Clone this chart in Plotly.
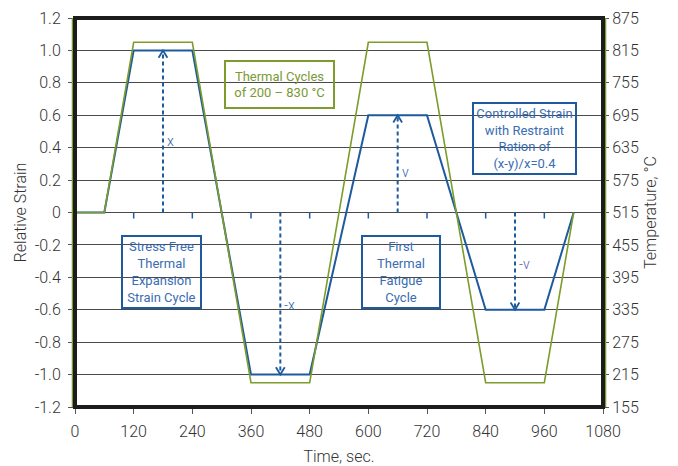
import plotly.graph_objects as go

# Time axis (s) and the two curves
time_s = [0, 60, 120, 240, 360, 480, 600, 720, 840, 960, 1020]
strain = [0, 0, 1.0, 1.0, -1.0, -1.0, 0.6, 0.6, -0.6, -0.6, 0]
temp_c = [515, 515, 830, 830, 200, 200, 830, 830, 200, 200, 515]

# Strain arrows: (time, tip strain, label, label strain, label colour)
arrow_t = [180, 420, 660, 900]
arrow_tip = [1.0, -1.0, 0.6, -0.6]
arrow_lbl = ["x", "-x", "v", "-v"]
arrow_lbl_y = [0.44, -0.57, 0.25, -0.32]
arrow_lbl_col = ["#2e63a8", "#2e63a8", "#2e63a8", "#5a5aa8"]

x_ticks = [0, 120, 240, 360, 480, 600, 720, 840, 960, 1080]
y_ticks = [1.2, 1.0, 0.8, 0.6, 0.4, 0.2, 0, -0.2, -0.4, -0.6, -0.8, -1.0, -1.2]
y_tick_text = ["1.2", "1.0", "0.8", "0.6", "0.4", "0.2", "0", "-0.2", "-0.4",
               "-0.6", "-0.8", "-1.0", "-1.2"]
t_ticks = [875, 815, 755, 695, 635, 575, 515, 455, 395, 335, 275, 215, 155]

BLUE = "#1d5a9e"
GREEN = "#7d9c2c"
TXT = "#333333"
FONT = "Roboto"
W = 300

fig = go.Figure()

fig.add_trace(go.Scatter(x=time_s, y=temp_c, mode="lines", yaxis="y2",
                         line=dict(color=GREEN, width=1.6), showlegend=False))
fig.add_trace(go.Scatter(x=time_s, y=strain, mode="lines",
                         line=dict(color=BLUE, width=2), showlegend=False))

# dashed arrows from zero with open chevron heads
for t, tip in zip(arrow_t, arrow_tip):
    fig.add_trace(go.Scatter(x=[t, t], y=[0, tip], mode="lines",
                             line=dict(color=BLUE, width=2, dash="4px,3px"),
                             showlegend=False))
    back = -0.045 if tip > 0 else 0.045
    fig.add_trace(go.Scatter(x=[t - 9, t, t + 9], y=[tip + back, tip, tip + back],
                             mode="lines", line=dict(color=BLUE, width=1.8),
                             showlegend=False))

annotations = []
for t, lbl, ly, col in zip(arrow_t, arrow_lbl, arrow_lbl_y, arrow_lbl_col):
    annotations.append(dict(x=t, y=ly, text=lbl, showarrow=False, xanchor="left",
                            xshift=2, font=dict(family=FONT, weight=W, size=14, color=col)))

boxes = [
    (176, -0.365, "Stress Free<br>Thermal<br>Expansion<br>Strain Cycle", BLUE, "#3a6db2", 77, 70),
    (667, -0.365, "First<br>Thermal<br>Fatigue<br>Cycle", BLUE, "#3a6db2", 76, 70),
    (419, 0.79, "Thermal Cycles<br>of 200 – 830 °C", GREEN, "#7a9a35", 107, 45),
    (920, 0.458, "Controlled Strain<br>with Restraint<br>Ration of<br>(x-y)/x=0.4", BLUE, "#3a6db2", 101, 69),
]
for bx, by, txt, bc, tc, w, h in boxes:
    annotations.append(dict(x=bx, y=by, text=txt, showarrow=False, xanchor="center",
                            yanchor="middle", width=w, height=h, borderwidth=2,
                            borderpad=0, bordercolor=bc, align="center",
                            font=dict(family=FONT, weight=400, size=13, color=tc)))

shapes = []
# small ticks along the zero line
for t in x_ticks[1:-1]:
    shapes.append(dict(type="line", xref="x", yref="y", x0=t, x1=t,
                       ysizemode="pixel", yanchor=0, y0=0, y1=-6,
                       line=dict(color=BLUE, width=1.5)))
# green axis lines just outside the frame
shapes.append(dict(type="line", xref="paper", yref="paper", xsizemode="pixel",
                   xanchor=0, x0=-2.5, x1=-2.5, y0=0, y1=1,
                   line=dict(color=GREEN, width=1.5)))
shapes.append(dict(type="line", xref="paper", yref="paper", xsizemode="pixel",
                   xanchor=1, x0=2.5, x1=2.5, y0=0, y1=1,
                   line=dict(color=GREEN, width=1.5)))
# heavy plot frame
shapes.append(dict(type="rect", xref="paper", yref="paper", x0=0, x1=1, y0=0, y1=1,
                   line=dict(color="#1c1c1c", width=4)))

axis_font = dict(family=FONT, weight=W, size=16, color=TXT)

fig.update_layout(
    width=678, height=466,
    margin=dict(l=75, r=75, t=18, b=59),
    paper_bgcolor="white", plot_bgcolor="white",
    font=axis_font,
    showlegend=False,
    xaxis=dict(range=[0, 1080], tickvals=x_ticks, ticks="outside", ticklen=6,
               tickcolor="#555", showgrid=False, zeroline=False, showline=False,
               tickfont=axis_font, ticklabelstandoff=4, automargin=False,
               title=dict(text="Time, sec.", standoff=13, font=axis_font)),
    yaxis=dict(range=[-1.2, 1.2], tickvals=y_ticks, ticktext=y_tick_text,
               ticks="outside", ticklen=6, tickcolor="#555", showgrid=True,
               gridcolor="#4a4a4a", gridwidth=1, zeroline=False, showline=False,
               tickfont=axis_font, ticklabelstandoff=4, automargin=False,
               title=dict(text="Relative Strain", standoff=4, font=axis_font)),
    yaxis2=dict(range=[155, 875], tickvals=t_ticks, overlaying="y", side="right",
                ticks="outside", ticklen=5, tickcolor="#555", showgrid=False,
                zeroline=False, showline=False, tickfont=axis_font, automargin=False,
                title=dict(text="Temperature, °C", standoff=6, font=axis_font)),
    annotations=annotations,
    shapes=shapes,
)

fig.write_html("out.html")
